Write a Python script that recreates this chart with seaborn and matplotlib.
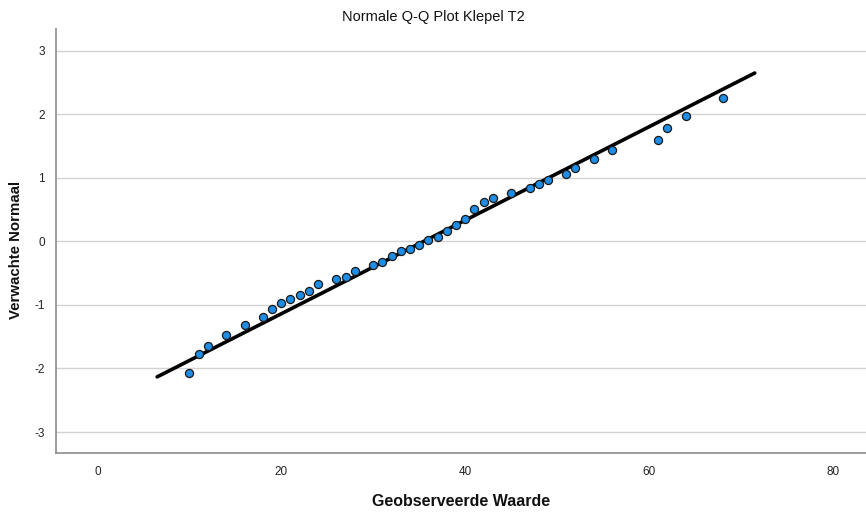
import matplotlib
matplotlib.use("Agg")
import matplotlib.pyplot as plt
import seaborn as sns
import numpy as np
import pandas as pd

# Observed values and their expected normal scores
observed = [10, 11, 12, 14, 16, 18, 19, 20, 21, 22, 23, 24, 26, 27, 28,
            30, 31, 32, 33, 34, 35, 36, 37, 38, 39, 40, 41, 42, 43, 45,
            47, 48, 49, 51, 52, 54, 56, 61, 62, 64, 68]
expected = [-2.07, -1.77, -1.64, -1.47, -1.31, -1.19, -1.06, -0.97, -0.90,
            -0.84, -0.78, -0.67, -0.60, -0.56, -0.46, -0.37, -0.32, -0.23,
            -0.16, -0.12, -0.06, 0.02, 0.07, 0.16, 0.26, 0.35, 0.51, 0.62,
            0.68, 0.76, 0.84, 0.90, 0.96, 1.06, 1.15, 1.30, 1.44, 1.59,
            1.78, 1.97, 2.25]

# Reference normal line parameters
ref_mean = 35.5
ref_sd = 13.6
line_x = [6.5, 71.5]

x_ticks = [0, 20, 40, 60, 80]
y_ticks = [-3, -2, -1, 0, 1, 2, 3]

title = "Normale Q-Q Plot Klepel T2"
x_label = "Geobserveerde Waarde"
y_label = "Verwachte Normaal"

sns.set_theme(style="white")
plt.rcParams["font.family"] = ["Liberation Sans", "DejaVu Sans"]
plt.rcParams["axes.unicode_minus"] = False

fig = plt.figure(figsize=(8.66, 5.12), dpi=100)
ax = fig.add_axes([0.0647, 0.1152, 0.9353, 0.8282])

pts = pd.DataFrame({"obs": observed, "exp": expected})
line = pd.DataFrame({"x": line_x,
                     "y": [(v - ref_mean) / ref_sd for v in line_x]})

sns.lineplot(data=line, x="x", y="y", ax=ax, color="black", linewidth=2.6,
             zorder=3)
sns.scatterplot(data=pts, x="obs", y="exp", ax=ax, s=34, color="#1f8de6",
                edgecolor="#1a1a1a", linewidth=0.9, zorder=4)

ax.set_xlim(-4.5, 83.6)
ax.set_ylim(-3.33, 3.34)
ax.set_xticks(x_ticks)
ax.set_yticks(y_ticks)
ax.yaxis.grid(True, color="#d2d2d2", linewidth=1.0)
ax.xaxis.grid(False)
ax.set_axisbelow(True)

for side in ("top", "right"):
    ax.spines[side].set_visible(False)
for side in ("left", "bottom"):
    ax.spines[side].set_color("#8c8c8c")
    ax.spines[side].set_linewidth(1.2)

ax.tick_params(axis="both", length=0, labelsize=8.5, colors="#222222")
ax.tick_params(axis="y", pad=8)
ax.tick_params(axis="x", pad=9)

ax.set_xlabel(x_label, fontsize=11.5, fontweight="bold", labelpad=12,
              color="#111111")
ax.set_ylabel(y_label, fontsize=10.8, fontweight="bold", color="#111111",
              va="center")
ax.yaxis.set_label_coords(-0.050, 0.48)
fig.text(0.5, 0.967, title, ha="center", va="center", fontsize=10.5,
         color="#111111")

fig.savefig("out.png", dpi=100)
